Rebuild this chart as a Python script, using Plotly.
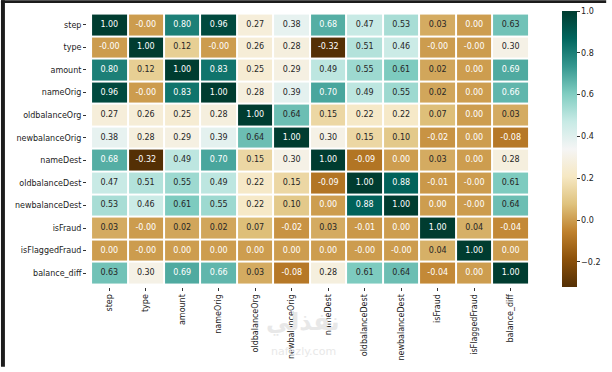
import plotly.graph_objects as go
from plotly.colors import sample_colorscale, diverging

labels = ["step", "type", "amount", "nameOrig", "oldbalanceOrg", "newbalanceOrig",
          "nameDest", "oldbalanceDest", "newbalanceDest", "isFraud", "isFlaggedFraud",
          "balance_diff"]

row_step = [1.00, -0.001, 0.80, 0.96, 0.27, 0.38, 0.68, 0.47, 0.53, 0.03, 0.00, 0.63]
row_type = [-0.001, 1.00, 0.12, -0.001, 0.26, 0.28, -0.32, 0.51, 0.46, -0.001, -0.001, 0.30]
row_amount = [0.80, 0.12, 1.00, 0.83, 0.25, 0.29, 0.49, 0.55, 0.61, 0.02, 0.00, 0.69]
row_nameOrig = [0.96, -0.001, 0.83, 1.00, 0.28, 0.39, 0.70, 0.49, 0.55, 0.02, 0.00, 0.66]
row_oldbalanceOrg = [0.27, 0.26, 0.25, 0.28, 1.00, 0.64, 0.15, 0.22, 0.22, 0.07, 0.00, 0.03]
row_newbalanceOrig = [0.38, 0.28, 0.29, 0.39, 0.64, 1.00, 0.30, 0.15, 0.10, -0.02, 0.00, -0.08]
row_nameDest = [0.68, -0.32, 0.49, 0.70, 0.15, 0.30, 1.00, -0.09, 0.00, 0.03, 0.00, 0.28]
row_oldbalanceDest = [0.47, 0.51, 0.55, 0.49, 0.22, 0.15, -0.09, 1.00, 0.88, -0.01, -0.001, 0.61]
row_newbalanceDest = [0.53, 0.46, 0.61, 0.55, 0.22, 0.10, 0.00, 0.88, 1.00, 0.00, -0.001, 0.64]
row_isFraud = [0.03, -0.001, 0.02, 0.02, 0.07, -0.02, 0.03, -0.01, 0.00, 1.00, 0.04, -0.04]
row_isFlaggedFraud = [0.00, -0.001, 0.00, 0.00, 0.00, 0.00, 0.00, -0.001, -0.001, 0.04, 1.00, 0.00]
row_balance_diff = [0.63, 0.30, 0.69, 0.66, 0.03, -0.08, 0.28, 0.61, 0.64, -0.04, 0.00, 1.00]

matrix = [row_step, row_type, row_amount, row_nameOrig, row_oldbalanceOrg,
          row_newbalanceOrig, row_nameDest, row_oldbalanceDest, row_newbalanceDest,
          row_isFraud, row_isFlaggedFraud, row_balance_diff]

cbar_ticks = [-0.2, 0.0, 0.2, 0.4, 0.6, 0.8, 1.0]
cbar_ticktext = ["\u22120.2", "0.0", "0.2", "0.4", "0.6", "0.8", "1.0"]

zmin, zmax = -0.32, 1.0
scale = diverging.BrBG


def lum(rgbstr):
    vals = [float(v) for v in rgbstr[rgbstr.index("(") + 1:-1].split(",")[:3]]
    out = []
    for c in vals:
        c = c / 255.0
        out.append(c / 12.92 if c <= 0.03928 else ((c + 0.055) / 1.055) ** 2.4)
    return 0.2126 * out[0] + 0.7152 * out[1] + 0.0722 * out[2]


tx, ty, tt, tc = [], [], [], []
for i, row in enumerate(matrix):
    for j, v in enumerate(row):
        pos = min(max((v - zmin) / (zmax - zmin), 0), 1)
        col = sample_colorscale(scale, [pos])[0]
        tx.append(labels[j])
        ty.append(labels[i])
        tt.append(f"{v:.2f}")
        tc.append("#262626" if lum(col) > 0.408 else "#ffffff")

fig = go.Figure()
fig.add_trace(go.Heatmap(
    z=matrix, x=labels, y=labels, zmin=zmin, zmax=zmax, colorscale="BrBG",
    xgap=2, ygap=2, hoverinfo="skip",
    colorbar=dict(
        thickness=15, len=1.0, lenmode="fraction", x=1.0643, xanchor="left",
        y=0.5, yanchor="middle", xpad=0, ypad=0, outlinewidth=0,
        tickvals=cbar_ticks, ticktext=cbar_ticktext, ticks="outside", ticklen=3,
        tickcolor="#333", tickfont=dict(family="DejaVu Sans", size=8, color="#222"),
    ),
))
fig.add_trace(go.Scatter(
    x=tx, y=ty, mode="text", text=tt,
    textfont=dict(family="DejaVu Sans", size=8, color=tc),
    hoverinfo="skip", showlegend=False,
))

ML, MR, MT, MB = 87, 74, 11, 81
PW, PH = 612 - ML - MR, 372 - MT - MB

def px(x):
    return (x - ML) / PW

def py(y):
    return (372 - MB - y) / PH

fig.update_layout(
    width=612, height=372,
    margin=dict(l=ML, r=MR, t=MT, b=MB),
    paper_bgcolor="white", plot_bgcolor="white",
    showlegend=False,
    xaxis=dict(tickangle=-90, ticks="outside", ticklen=3, tickcolor="#333",
               tickfont=dict(family="DejaVu Sans", size=8, color="#222"),
               showgrid=False, zeroline=False, showline=False),
    yaxis=dict(autorange="reversed", ticks="outside", ticklen=3, tickcolor="#333",
               tickfont=dict(family="DejaVu Sans", size=8, color="#222"),
               showgrid=False, zeroline=False, showline=False),
    shapes=[
        dict(type="rect", xref="paper", yref="paper", x0=px(0), x1=px(612),
             y0=py(3), y1=py(0), fillcolor="#1c1c1c", line=dict(width=0)),
        dict(type="rect", xref="paper", yref="paper", x0=px(0), x1=px(4),
             y0=py(372), y1=py(0), fillcolor="#1c1c1c", line=dict(width=0)),
    ],
    annotations=[
        dict(text="<b>نفذلي</b>", xref="paper", yref="paper", x=px(305), y=py(343),
             showarrow=False, font=dict(family="DejaVu Sans", size=24, color="#e8e8e8")),
        dict(text="nafezly.com", xref="paper", yref="paper", x=px(306), y=py(365),
             showarrow=False, font=dict(family="DejaVu Sans", size=11, color="#e8e8e8")),
    ],
)

fig.write_html(
    "out.html",
    config={"displayModeBar": False},
    post_script="document.body.style.margin='0';document.body.style.padding='0';"
                "document.documentElement.style.overflow='hidden';",
)
